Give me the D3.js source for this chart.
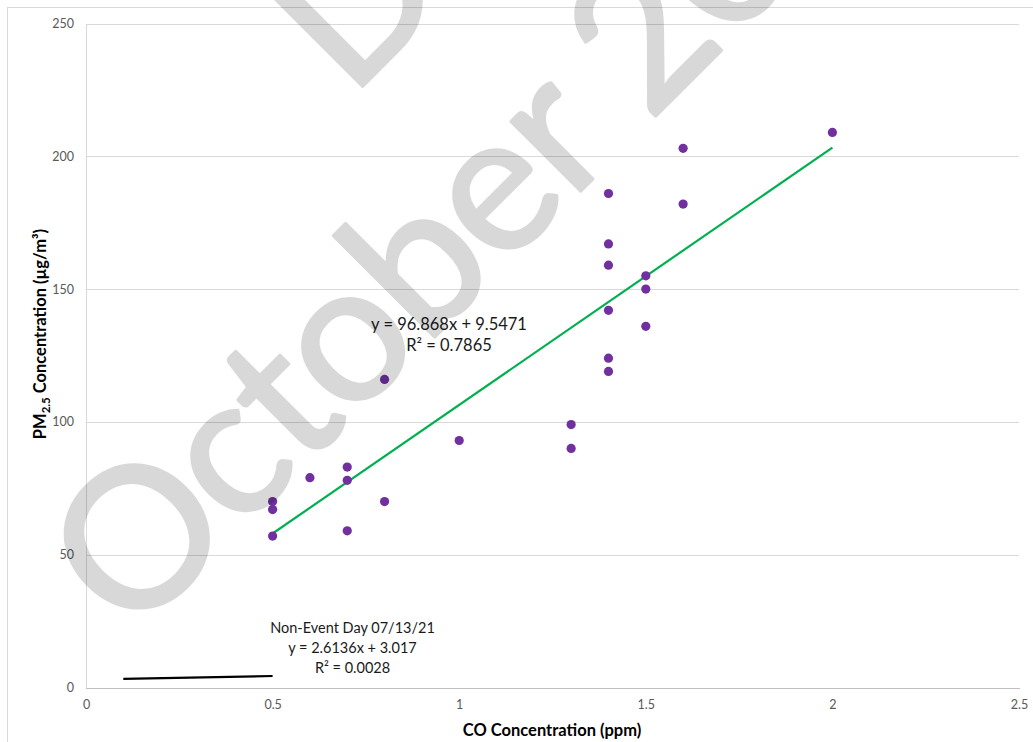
<!DOCTYPE html>
<html>
<head>
<meta charset="utf-8">
<script src="https://cdn.jsdelivr.net/npm/d3@7"></script>
<style>
  html, body { margin: 0; padding: 0; background: #ffffff; }
  svg { display: block; }
  text { font-family: Lato, "Open Sans", sans-serif; }
</style>
</head>
<body>
<svg id="chart" width="1033" height="742"></svg>
<script>
// Event-day observations: CO (ppm) vs PM2.5 (µg/m³)
const coPpm = [0.5, 0.5, 0.5, 0.6, 0.7, 0.7, 0.7, 0.8, 0.8, 1.0, 1.3, 1.3,
               1.4, 1.4, 1.4, 1.4, 1.4, 1.4, 1.5, 1.5, 1.5, 1.6, 1.6, 2.0];
const pm25 = [57, 67, 70, 79, 83, 78, 59, 116, 70, 93, 99, 90,
              186, 167, 159, 142, 124, 119, 155, 150, 136, 203, 182, 209];

// Linear fit for the event days
const eventFit = { slope: 96.868, intercept: 9.5471, r2: 0.7865 };
const eventFitLabel = ["y = 96.868x + 9.5471", "R² = 0.7865"];

// Linear fit for the non-event day, drawn over its CO range
const nonEventRange = [0.1, 0.5];
const nonEventFit = { slope: 2.6136, intercept: 3.017, r2: 0.0028 };
const nonEventLabel = ["Non-Event Day 07/13/21", "y = 2.6136x + 3.017", "R² = 0.0028"];

// Axis ticks
const xTicks = [0, 0.5, 1, 1.5, 2, 2.5];
const xTickLabels = ["0", "0.5", "1", "1.5", "2", "2.5"];
const yTicks = [0, 50, 100, 150, 200, 250];
const yTickLabels = ["0", "50", "100", "150", "200", "250"];

// Watermark lines
const watermarkLines = ["DRAFT", "October 2021"];

const svg = d3.select("#chart");
const W = 1033, H = 742;

const plot = { left: 86, right: 1019, top: 23.5, bottom: 687.5 };
const x = d3.scaleLinear().domain([0, 2.5]).range([plot.left, plot.right]);
const y = d3.scaleLinear().domain([0, 250]).range([plot.bottom, plot.top]);

svg.append("rect").attr("width", W).attr("height", H).attr("fill", "#ffffff");

// chart-area frame
svg.append("rect")
  .attr("x", 7.5).attr("y", 7.5)
  .attr("width", W + 40).attr("height", H + 40)
  .attr("fill", "none").attr("stroke", "#d9d9d9").attr("stroke-width", 1);

// Y axis with horizontal gridlines
const yAxis = d3.axisLeft(y)
  .tickValues(yTicks)
  .tickFormat((d, i) => yTickLabels[i])
  .tickSizeInner(-(plot.right - plot.left))
  .tickSizeOuter(0)
  .tickPadding(12);

const gy = svg.append("g")
  .attr("transform", `translate(${plot.left},0)`)
  .call(yAxis);
gy.select(".domain").attr("stroke", "#d9d9d9").attr("shape-rendering", "crispEdges");
gy.selectAll(".tick line")
  .attr("stroke", d => d === 0 ? "#bfbfbf" : "#d9d9d9")
  .attr("shape-rendering", "crispEdges");
gy.selectAll(".tick text")
  .attr("fill", "#595959")
  .style("font-size", "12.5px");

// X axis
const xAxis = d3.axisBottom(x)
  .tickValues(xTicks)
  .tickFormat((d, i) => xTickLabels[i])
  .tickSize(0)
  .tickPadding(13);

const gx = svg.append("g")
  .attr("transform", `translate(0,${plot.bottom})`)
  .call(xAxis);
gx.select(".domain").attr("stroke", "#bfbfbf").attr("shape-rendering", "crispEdges");
gx.selectAll(".tick text")
  .attr("fill", "#595959")
  .style("font-size", "12.5px");

// Axis titles
svg.append("text")
  .attr("x", 552).attr("y", 730)
  .attr("dy", "0.35em")
  .attr("text-anchor", "middle")
  .attr("font-weight", "bold")
  .attr("font-size", 16.5)
  .attr("fill", "#000")
  .text("CO Concentration (ppm)");

const yTitle = svg.append("text")
  .attr("transform", "translate(40,334) rotate(-90)")
  .attr("dy", "0.35em")
  .attr("text-anchor", "middle")
  .attr("font-weight", "bold")
  .attr("font-size", 16.5)
  .attr("fill", "#000");
yTitle.append("tspan").text("PM");
yTitle.append("tspan").attr("font-size", 11.5).attr("dy", 4).text("2.5");
yTitle.append("tspan").attr("dy", -4).text(" Concentration (µg/m³)");

// Event-day trend line over the observed CO range
const line = d3.line().x(d => x(d[0])).y(d => y(d[1]));
const [coMin, coMax] = d3.extent(coPpm);
const eventLine = [coMin, coMax].map(c => [c, eventFit.slope * c + eventFit.intercept]);
svg.append("path")
  .attr("d", line(eventLine))
  .attr("fill", "none")
  .attr("stroke", "#00b050")
  .attr("stroke-width", 2.2);

// Non-event trend line
const nonLine = nonEventRange.map(c => [c, nonEventFit.slope * c + nonEventFit.intercept]);
svg.append("path")
  .attr("d", line(nonLine))
  .attr("fill", "none")
  .attr("stroke", "#000")
  .attr("stroke-width", 2.2);

// Observations
svg.append("g")
  .selectAll("circle")
  .data(coPpm.map((c, i) => [c, pm25[i]]))
  .join("circle")
  .attr("cx", d => x(d[0]))
  .attr("cy", d => y(d[1]))
  .attr("r", 4.6)
  .attr("fill", "#7030a0");

// Fit labels
svg.append("g")
  .selectAll("text")
  .data(eventFitLabel)
  .join("text")
  .attr("x", 449)
  .attr("y", (d, i) => 324 + i * 21.3)
  .attr("dy", "0.35em")
  .attr("text-anchor", "middle")
  .attr("font-size", 16.5)
  .attr("fill", "#1a1a1a")
  .text(d => d);

svg.append("g")
  .selectAll("text")
  .data(nonEventLabel)
  .join("text")
  .attr("x", 352.5)
  .attr("y", (d, i) => 628.3 + i * 19.7)
  .attr("dy", "0.35em")
  .attr("text-anchor", "middle")
  .attr("font-size", 14.5)
  .attr("fill", "#1a1a1a")
  .text(d => d);

// Watermark laid over the chart (group opacity keeps fill+stroke overlap uniform)
const wm = svg.append("g")
  .attr("opacity", 0.15)
  .attr("fill", "#000")
  .attr("stroke", "#000")
  .attr("stroke-width", 3)
  .attr("stroke-linejoin", "round")
  .attr("font-size", 195)
  .attr("letter-spacing", -3)
  .attr("font-family", "Lato, sans-serif");
const wmOrigins = [[350, 99], [131, 641]];
wm.selectAll("text")
  .data(watermarkLines)
  .join("text")
  .attr("transform", (d, i) => `translate(${wmOrigins[i][0]},${wmOrigins[i][1]}) rotate(-45)`)
  .text(d => d);
</script>
</body>
</html>
